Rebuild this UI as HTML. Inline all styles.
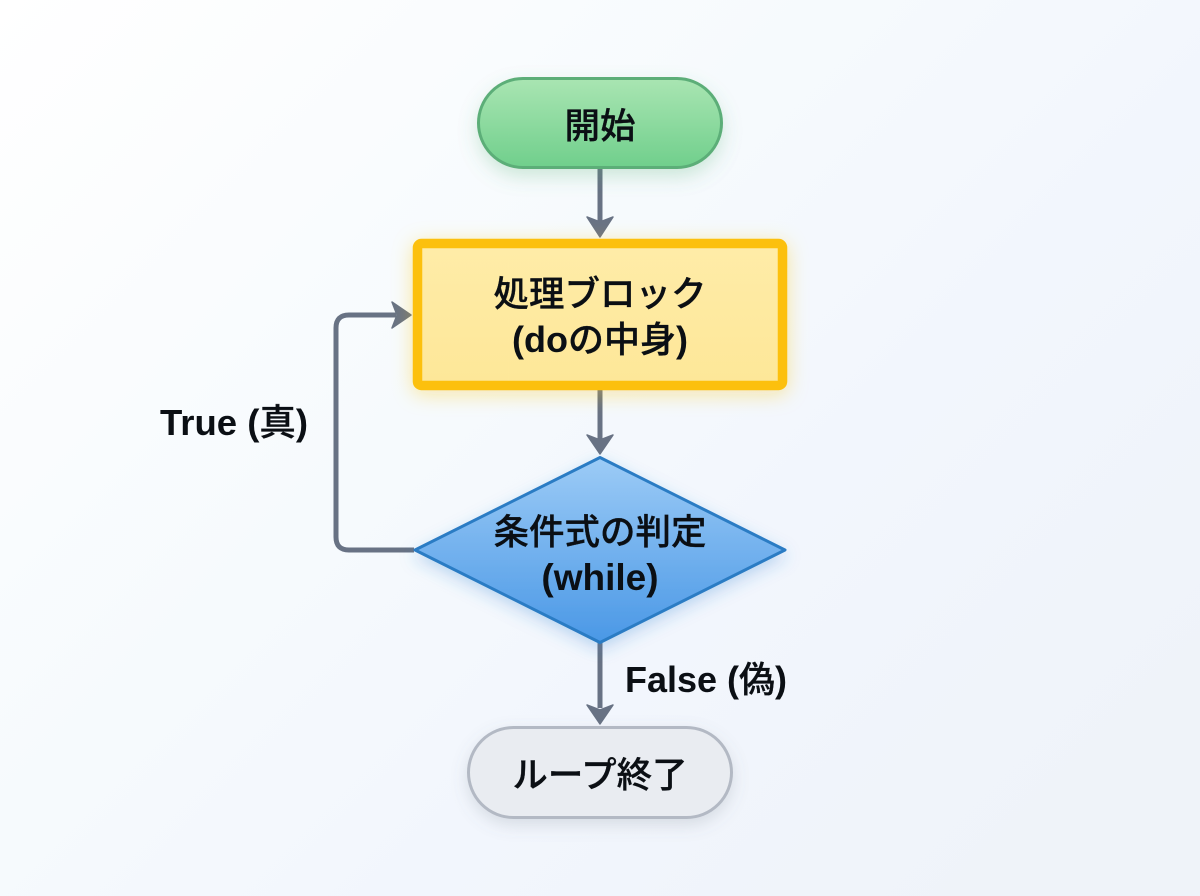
<!DOCTYPE html>
<html lang="ja">
<head>
<meta charset="utf-8">
<title>do-while</title>
<style>
html,body{margin:0;padding:0;width:1200px;height:896px;overflow:hidden;background:#f6f9fd}
svg{display:block}
text{font-family:"Liberation Sans","Noto Sans CJK JP",sans-serif;font-weight:500;fill:#0b0f14;stroke:#0b0f14;stroke-width:.3px;text-anchor:middle}
.b{font-weight:700;stroke-width:0}
</style>
</head>
<body>
<svg width="1200" height="896" viewBox="0 0 1200 896" xmlns="http://www.w3.org/2000/svg">
<defs>
<linearGradient id="bg" x1="0" y1="0" x2="1" y2=".75"><stop offset="0" stop-color="#ffffff"/><stop offset=".45" stop-color="#f6fafd"/><stop offset=".7" stop-color="#f2f6fd"/><stop offset="1" stop-color="#eff3f9"/></linearGradient>
<linearGradient id="g" x1="0" y1="0" x2="0" y2="1"><stop offset="0" stop-color="#a9e5b2"/><stop offset="1" stop-color="#70cf8c"/></linearGradient>
<linearGradient id="y" x1="0" y1="0" x2="0" y2="1"><stop offset="0" stop-color="#ffeca8"/><stop offset="1" stop-color="#fde798"/></linearGradient>
<linearGradient id="d" x1="0" y1="0" x2="0" y2="1"><stop offset="0" stop-color="#9ccbf6"/><stop offset="1" stop-color="#4a98e6"/></linearGradient>
<filter id="sg" x="-20%" y="-30%" width="140%" height="170%"><feDropShadow dx="0" dy="8" stdDeviation="9" flood-color="#4fae6c" flood-opacity=".25"/></filter>
<filter id="sy" x="-20%" y="-20%" width="140%" height="150%"><feDropShadow dx="0" dy="4" stdDeviation="10" flood-color="#fcc419" flood-opacity=".38"/></filter>
<filter id="sd" x="-20%" y="-20%" width="140%" height="150%"><feDropShadow dx="0" dy="6" stdDeviation="8" flood-color="#2f80d0" flood-opacity=".28"/></filter>
<filter id="sn" x="-20%" y="-30%" width="140%" height="170%"><feDropShadow dx="0" dy="6" stdDeviation="8" flood-color="#6b7280" flood-opacity=".2"/></filter>
</defs>
<rect width="1200" height="896" fill="url(#bg)"/>

<g fill="none" stroke="#687284" stroke-width="5">
<path d="M600 169V222"/>
<path d="M600 390V440"/>
<path d="M600 643V708"/>
<path d="M414 550H349Q336 550 336 537V328Q336 315 349 315H396"/>
</g>
<g fill="#687284" stroke="#687284" stroke-width="1.500" stroke-linejoin="round">
<path d="M587 217L600 222L613 217L600 237Z"/>
<path d="M587 435L600 440L613 435L600 454Z"/>
<path d="M587 705L600 710L613 705L600 724Z"/>
<path d="M392 302L397 315L392 328L411 315Z"/>
</g>

<rect x="478.500" y="78.500" width="243" height="89" rx="44.500" fill="url(#g)" stroke="#5cae78" stroke-width="3" filter="url(#sg)"/>
<text x="600" y="138" font-size="35.500">開始</text>

<rect x="417.500" y="243.500" width="365" height="142" rx="4" fill="url(#y)" stroke="#fcc00a" stroke-width="9.500" filter="url(#sy)"/>
<text x="600" y="306" font-size="35.500">処理ブロック</text>
<text x="600" y="352" font-size="36"><tspan class="b">(do</tspan>の中身<tspan class="b">)</tspan></text>

<path d="M600 457.500L785 550L600 642.500L415 550Z" fill="url(#d)" stroke="#2b7bc4" stroke-width="3" stroke-linejoin="round" filter="url(#sd)"/>
<text x="600" y="544" font-size="35.500">条件式の判定</text>
<text class="b" x="600" y="590" font-size="37">(while)</text>

<rect x="468.500" y="727.500" width="263" height="90" rx="45" fill="#e9ecf1" stroke="#b3b9c4" stroke-width="3" filter="url(#sn)"/>
<text x="600" y="787" font-size="35.500">ループ終了</text>

<text x="234" y="435" font-size="36.500"><tspan class="b">True (</tspan>真<tspan class="b">)</tspan></text>
<text x="706" y="692" font-size="36"><tspan class="b">False (</tspan>偽<tspan class="b">)</tspan></text>
</svg>
</body>
</html>
